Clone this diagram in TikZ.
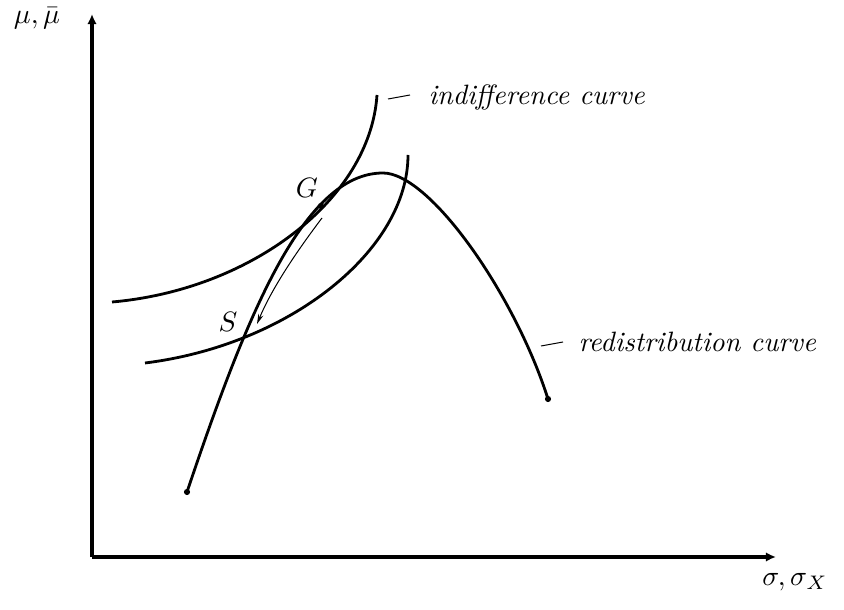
\documentclass[tikz,border=0pt]{standalone}
\usetikzlibrary{arrows.meta}
\begin{document}
\begin{tikzpicture}[x=0.357pt,y=-0.357pt,
  axis/.style={line width=1.1pt,-{Latex[length=3.6pt,width=3.4pt]}},
  crv/.style={line width=1.0pt},
  lead/.style={line width=0.36pt},
  lbl/.style={font=\itshape, anchor=west, inner sep=0pt},
  dot/.style={circle,fill,inner sep=0pt,minimum size=2.2pt}]
\useasboundingbox (0,0) rectangle (844,610);
% axes
\coordinate (O) at (92,557);
\coordinate (Ytip) at (92,14);
\coordinate (Xtip) at (776,557);
\draw[axis] (O) -- (Ytip);
\draw[axis] (O) -- (Xtip);
\node (ylab) at (37,18) {$\mu,\bar\mu$};
\node (xlab) at (795,582) {$\sigma,\sigma_X$};
% points
\node[dot] (A) at (187,492) {};
\node[dot] (B) at (548,399) {};
\node[dot] (G) at (321,206) {};
\coordinate (P) at (383,173);
% redistribution curve
\draw[crv] (A.center) .. controls (246,317) and (303,173) .. (P)
  .. controls (430,173) and (515,295) .. (B.center);
% indifference curves
\coordinate (U0) at (112,302);
\coordinate (U1) at (377,95);
\draw[crv] (U0) .. controls (250,290) and (370,200) .. (U1);
\coordinate (L0) at (145,363);
\coordinate (L1) at (408,155);
\draw[crv] (L0) .. controls (290,345) and (408,250) .. (L1);
% move arrow
\coordinate (M0) at (322,218);
\coordinate (M1) at (257,324);
\draw[lead,-{Stealth[length=3.6pt,width=1.9pt]}] (M0) .. controls (297,251) and (272,288) .. (M1);
% labels
\node (Glab) at (307,188) {$G$};
\node (Slab) at (228,322) {$S$};
\node[lbl] (ic) at (428,98) {indifference curve};
\node[lbl] (rc) at (578,342) {redistribution curve};
\coordinate (ic0) at (388,99);
\coordinate (ic1) at (410,95);
\draw[lead] (ic0) -- (ic1);
\coordinate (rc0) at (541,346);
\coordinate (rc1) at (563,342);
\draw[lead] (rc0) -- (rc1);
\end{tikzpicture}
\end{document}
